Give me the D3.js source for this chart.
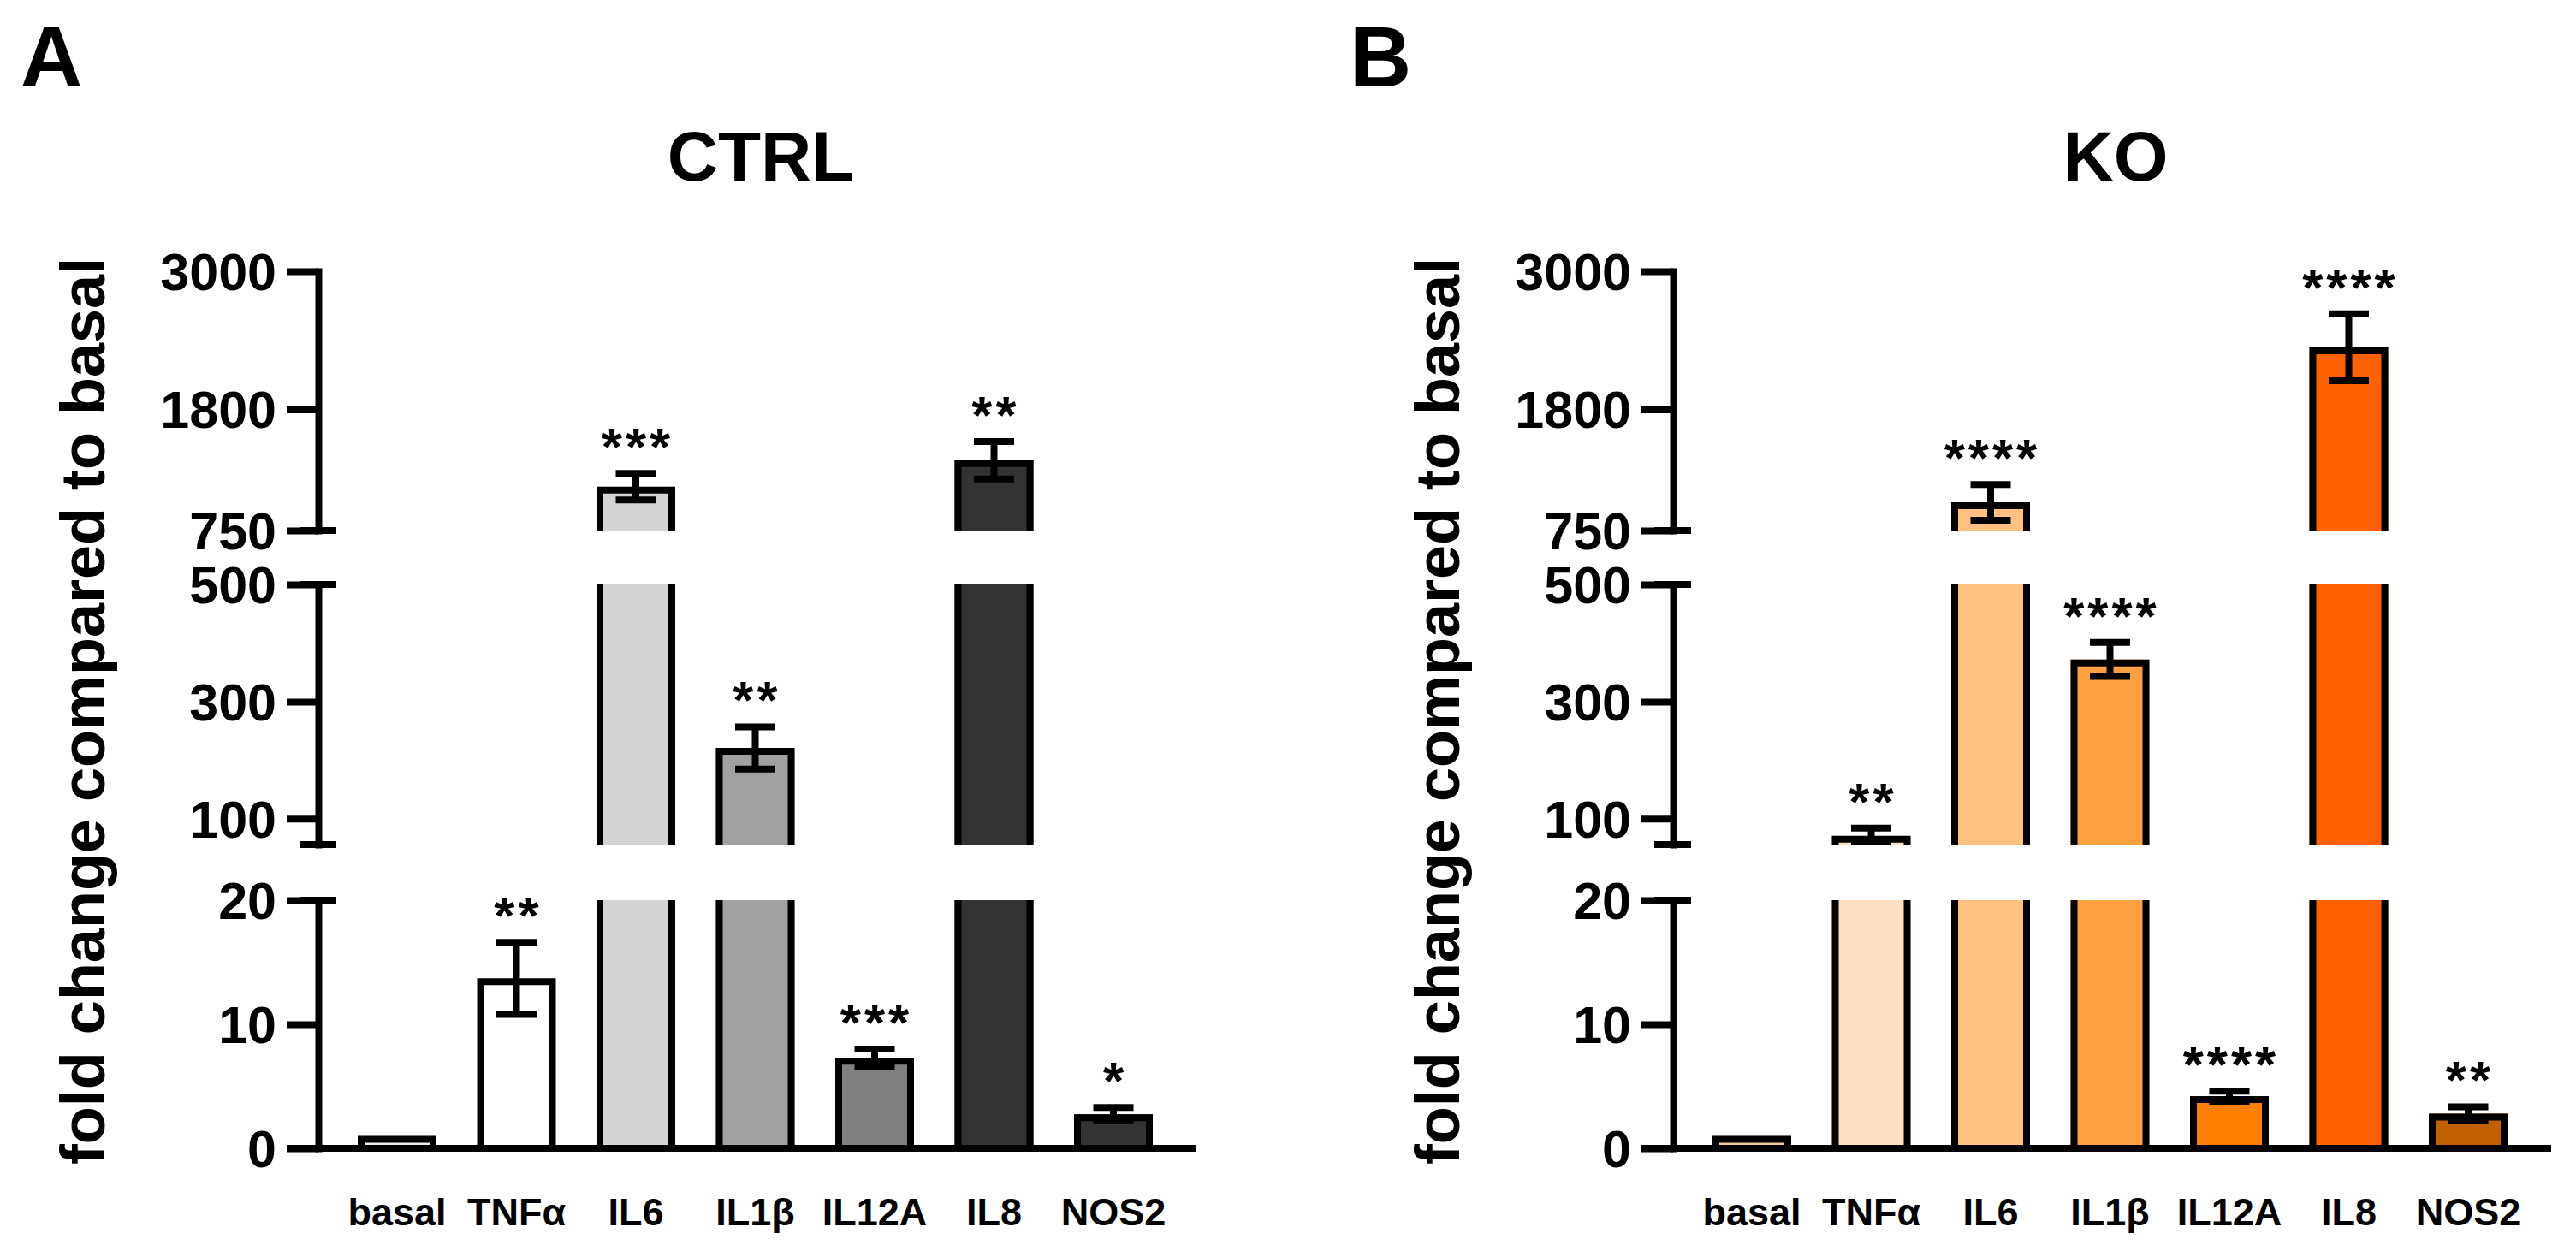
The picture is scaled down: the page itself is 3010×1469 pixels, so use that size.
<!DOCTYPE html>
<html>
<head>
<meta charset="utf-8">
<script src="https://cdn.jsdelivr.net/npm/d3@7"></script>
<style>
  html, body { margin: 0; padding: 0; background: #fff; }
  svg { display: block; }
</style>
</head>
<body>
<script>
// ---------------- DATA ----------------
const categories = ["basal", "TNFα", "IL6", "IL1β", "IL12A", "IL8", "NOS2"];

const ctrlMeans  = [1, 13.7, 1130, 221, 7.3, 1360, 2.75];
const ctrlErrors = [0, 2.9, 115, 36, 0.7, 163, 0.55];
const ctrlStars  = ["", "**", "***", "**", "***", "**", "*"];
const ctrlColors = ["#ececec", "#ffffff", "#d4d4d4", "#a1a1a4", "#808080", "#333333", "#333333"];

const koMeans  = [1, 71, 995, 372, 4.2, 2340, 2.8];
const koErrors = [0, 13, 155, 29, 0.4, 290, 0.55];
const koStars  = ["", "**", "****", "****", "****", "****", "**"];
const koColors = ["#f2c9a0", "#fde0c2", "#ffc080", "#ffa040", "#ff8000", "#ff6000", "#c06000"];

// broken y-axis segments (bottom, middle, top) and their tick labels
const segDomains = [[0, 20], [56, 500], [750, 3000]];
const segTicks   = [[0, 10, 20], [100, 300, 500], [750, 1800, 3000]];

const yTitle = "fold change compared to basal";

// ---------------- LAYOUT ----------------
const W = 3010, H = 1469;
const FONT = "'Liberation Sans', Arial, Helvetica, sans-serif";
const segRanges = [[1342, 1052], [987, 683], [620, 317]];
const axisX = 372;
const barW = 92, sw = 8, capHalf = 23.5;

const svg = d3.select("body").append("svg")
  .attr("width", W).attr("height", H)
  .attr("viewBox", `0 0 ${W} ${H}`);
svg.append("rect").attr("width", W).attr("height", H).attr("fill", "#fff");

function panel(opts) {
  const { offsetX, id, title, letter, letterX, means, errs, stars, colors } = opts;
  const g = svg.append("g").attr("transform", `translate(${offsetX},0)`);
  const x = d3.scalePoint().domain(categories).range([464, 1301]);
  const scales = segDomains.map((d, i) => d3.scaleLinear().domain(d).range(segRanges[i]));

  // bars and error bars, per segment with clipping
  scales.forEach((y, si) => {
    const dom = segDomains[si];
    const [rb, rt] = segRanges[si];
    const clipId = `${id}-clip-${si}`;
    g.append("clipPath").attr("id", clipId)
      .append("rect").attr("x", axisX + 10).attr("y", rt)
      .attr("width", 1100).attr("height", rb - rt);
    const sg = g.append("g").attr("clip-path", `url(#${clipId})`);

    categories.forEach((c, i) => {
      const v = means[i];
      if (v <= dom[0]) return;
      const cx = x(c);
      const x0 = cx - barW / 2, x1 = cx + barW / 2;
      const yt = y(v);
      const yb = rb + 10;
      sg.append("rect")
        .attr("x", x0).attr("y", yt)
        .attr("width", barW).attr("height", Math.max(0, yb - yt))
        .attr("fill", colors[i]);
      sg.append("path")
        .attr("d", `M${x0 + sw / 2},${yb}V${yt + sw / 2}H${x1 - sw / 2}V${yb}`)
        .attr("fill", "none").attr("stroke", "#000").attr("stroke-width", sw);

      const e = errs[i];
      if (e > 0) {
        const ye1 = y(v + e), ye0 = y(v - e);
        sg.append("line").attr("x1", cx).attr("x2", cx).attr("y1", ye0).attr("y2", ye1)
          .attr("stroke", "#000").attr("stroke-width", sw);
        [ye0, ye1].forEach(yy => {
          sg.append("line").attr("x1", cx - capHalf).attr("x2", cx + capHalf)
            .attr("y1", yy).attr("y2", yy)
            .attr("stroke", "#000").attr("stroke-width", sw);
        });
      }
    });
  });

  // significance stars
  categories.forEach((c, i) => {
    if (!stars[i]) return;
    const top = means[i] + errs[i];
    let si = segDomains.findIndex(d => top >= d[0] && top <= d[1]);
    if (si < 0) si = 0;
    const yy = scales[si](top) - 10;
    g.append("text")
      .attr("x", x(c) + 2).attr("y", yy)
      .attr("text-anchor", "middle")
      .attr("font-family", FONT).attr("font-weight", "bold")
      .attr("font-size", 62).attr("letter-spacing", 4)
      .text(stars[i]);
  });

  // y axis segments
  scales.forEach((y, si) => {
    const ag = g.append("g").attr("transform", `translate(${axisX},0)`)
      .call(d3.axisLeft(y).tickValues(segTicks[si]).tickFormat(d3.format("d"))
        .tickSize(37).tickPadding(12).tickSizeOuter(0));
    ag.select(".domain").attr("stroke-width", sw).attr("stroke-linecap", "square");
    ag.selectAll(".tick line").attr("stroke-width", sw);
    ag.selectAll(".tick text")
      .attr("font-family", FONT).attr("font-weight", "bold")
      .attr("font-size", 61).attr("dy", "0.35em").attr("fill", "#000");
  });
  // break caps
  [segRanges[2][0], segRanges[1][1], segRanges[1][0], segRanges[0][1]].forEach(yy => {
    g.append("line").attr("x1", axisX - 22).attr("x2", axisX + 21)
      .attr("y1", yy).attr("y2", yy)
      .attr("stroke", "#000").attr("stroke-width", sw);
  });

  // x axis line
  g.append("line").attr("x1", axisX - 37).attr("x2", 1398)
    .attr("y1", segRanges[0][0]).attr("y2", segRanges[0][0])
    .attr("stroke", "#000").attr("stroke-width", sw);

  // category labels
  g.selectAll(".xlab").data(categories).enter().append("text")
    .attr("class", "xlab")
    .attr("x", d => x(d)).attr("y", 1432)
    .attr("text-anchor", "middle")
    .attr("font-family", FONT).attr("font-weight", "bold").attr("font-size", 45)
    .text(d => d);

  // y title
  g.append("text")
    .attr("transform", `translate(122,831) rotate(-90)`)
    .attr("text-anchor", "middle")
    .attr("font-family", FONT).attr("font-weight", "bold").attr("font-size", 72)
    .text(yTitle);

  // panel title
  g.append("text")
    .attr("x", 889).attr("y", 211)
    .attr("text-anchor", "middle")
    .attr("font-family", FONT).attr("font-weight", "bold").attr("font-size", 82)
    .text(title);

  // panel letter
  svg.append("text")
    .attr("x", letterX).attr("y", 101)
    .attr("font-family", FONT).attr("font-weight", "bold").attr("font-size", 100)
    .text(letter);
}

panel({ offsetX: 0, id: "a", title: "CTRL", letter: "A", letterX: 24,
        means: ctrlMeans, errs: ctrlErrors, stars: ctrlStars, colors: ctrlColors });
panel({ offsetX: 1583, id: "b", title: "KO", letter: "B", letterX: 1577,
        means: koMeans, errs: koErrors, stars: koStars, colors: koColors });
</script>
</body>
</html>
